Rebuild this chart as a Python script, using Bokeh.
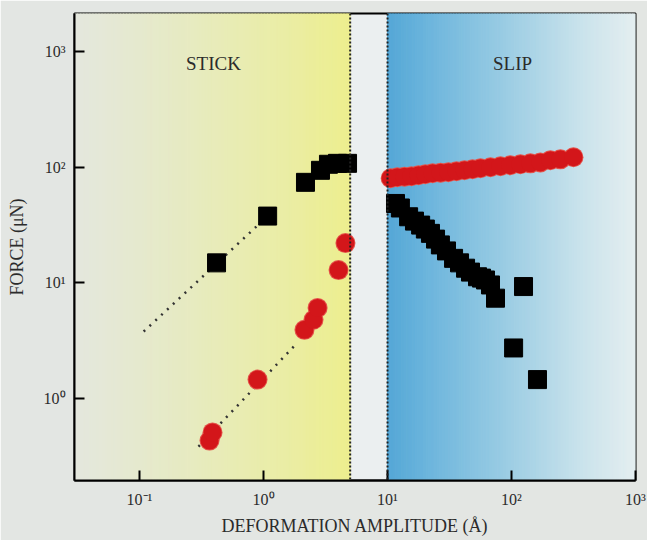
import numpy as np
from bokeh.plotting import figure
from bokeh.models import Range1d, FixedTicker, Label, Span, CustomJSTickFormatter
from bokeh.embed import file_html
from bokeh.resources import INLINE

# ---- data ----
stick_sq_x = [0.418, 1.08, 2.18, 2.88, 3.34, 3.95, 4.76]
stick_sq_y = [14.9, 37.8, 74, 94, 106, 108, 108]

stick_ci_x = [0.367, 0.388, 0.895, 2.14, 2.53, 2.73, 4.03, 4.58]
stick_ci_y = [0.434, 0.51, 1.46, 3.93, 4.8, 6.08, 12.9, 22.1]

slip_ci_x = [10.6, 12.0, 13.7, 15.6, 17.8, 20.2, 23.1, 26.8, 31.0, 36.0, 41.8,
             48.5, 56.2, 67.7, 81.5, 98, 118, 142, 171, 206, 248, 316]
slip_ci_y = [80.3, 82, 82.8, 83.6, 85.3, 87, 88.8, 89.7, 90.6, 92.4, 94.3,
             96.2, 98.1, 100, 102, 104, 106, 108, 110, 115, 117, 122]

slip_sq_x = [11.6, 12.7, 14.8, 16.5, 18.5, 20.2, 22.2, 24.4, 26.7, 29.9, 34.1,
             38.1, 42.6, 46.7, 53.2, 57.3, 61.7, 67.7, 74.3, 125, 104, 162]
slip_sq_y = [48.6, 44.4, 37.3, 34.2, 31.6, 29.2, 26.8, 23.9, 21.3, 18.9, 16.3,
             14.9, 13.4, 12.4, 11.3, 11.0, 10.6, 9.6, 7.38, 9.3, 2.74, 1.46]

fit_sq_x = [0.108, 1.0]
fit_sq_y = [3.8, 35.0]
fit_ci_x = [0.299, 1.81]
fit_ci_y = [0.385, 2.92]

region_bounds = [5.0, 10.0]   # stick | gap | slip
x_ticks = [0.1, 1, 10, 100, 1000]
y_ticks = [1, 10, 100, 1000]

X0, X1 = 0.0299, 1000
Y0, Y1 = 0.196, 2130

SERIF = "Liberation Serif"
TXT = "#2b2b2b"

p = figure(width=647, height=540, x_axis_type="log", y_axis_type="log",
           x_range=Range1d(X0, X1), y_range=Range1d(Y0, Y1),
           output_backend="svg", toolbar_location=None,
           min_border_left=74, min_border_right=12, min_border_top=13,
           min_border_bottom=60)
p.border_fill_color = "#e3e6e3"
p.background_fill_color = "#ebeff0"
p.grid.visible = False
p.outline_line_color = "black"
p.outline_line_width = 2


def grad(stops, t):
    fr = [s[0] for s in stops]
    out = []
    for tt in t:
        c = [np.interp(tt, fr, [s[1][k] for s in stops]) for k in range(3)]
        out.append("#%02x%02x%02x" % tuple(int(round(v)) for v in c))
    return out


def band(xa, xb, stops, n=90):
    e = np.logspace(np.log10(xa), np.log10(xb), n + 1)
    t = (np.arange(n) + 0.5) / n
    cols = grad(stops, t)
    p.quad(left=e[:-1], right=e[1:], bottom=Y0, top=Y1,
           fill_color=cols, line_color=cols, line_width=1)


yellow_stops = [(0.0, (228, 231, 222)), (0.35, (230, 234, 198)),
                (0.75, (234, 237, 166)), (1.0, (237, 238, 142))]
blue_stops = [(0.0, (84, 166, 214)), (0.15, (106, 180, 220)),
              (0.5, (158, 206, 228)), (0.8, (204, 228, 236)), (1.0, (228, 238, 240))]

band(X0, region_bounds[0], yellow_stops)
band(region_bounds[1], X1, blue_stops)

for b in region_bounds:
    p.add_layout(Span(location=b, dimension="height", line_color="#222222",
                      line_width=2, line_dash="2 2"))

p.line(fit_sq_x, fit_sq_y, line_color="#333333", line_width=2.5, line_dash="2 6")
p.line(fit_ci_x, fit_ci_y, line_color="#333333", line_width=2.5, line_dash="2 6")

p.scatter(stick_sq_x, stick_sq_y, marker="square", size=18, fill_color="black", line_color="black")
p.scatter(slip_sq_x, slip_sq_y, marker="square", size=18, fill_color="black", line_color="black")

# red circles: a pale rim layer underneath, solid red on top (merged silhouette)
for cx, cy in ((stick_ci_x, stick_ci_y), (slip_ci_x, slip_ci_y)):
    p.scatter(cx, cy, marker="circle", size=20, fill_color="#e4524a", line_color=None)
for cx, cy in ((stick_ci_x, stick_ci_y), (slip_ci_x, slip_ci_y)):
    p.scatter(cx, cy, marker="circle", size=18, fill_color="#d3161a", line_color=None)

p.add_layout(Label(x=0.395, y=789, text="STICK", text_align="center", text_baseline="middle",
                   text_font=SERIF, text_font_size="19px", text_color=TXT))
p.add_layout(Label(x=102, y=789, text="SLIP", text_align="center", text_baseline="middle",
                   text_font=SERIF, text_font_size="19px", text_color=TXT))

fmt = CustomJSTickFormatter(code="""
const sup = {"-": "\\u207b", "0": "\\u2070", "1": "\\u00b9", "2": "\\u00b2", "3": "\\u00b3",
             "4": "\\u2074", "5": "\\u2075", "6": "\\u2076", "7": "\\u2077", "8": "\\u2078", "9": "\\u2079"};
const e = Math.round(Math.log10(tick));
return "10" + String(e).split("").map(c => sup[c]).join("");
""")

p.xaxis.ticker = FixedTicker(ticks=x_ticks)
p.yaxis.ticker = FixedTicker(ticks=y_ticks)
for ax in (p.xaxis[0], p.yaxis[0]):
    ax.formatter = fmt
    ax.minor_tick_line_color = None
    ax.major_tick_in = 10
    ax.major_tick_out = 0
    ax.major_tick_line_width = 2
    ax.major_tick_line_color = "black"
    ax.axis_line_width = 2
    ax.axis_line_color = "black"
    ax.major_label_text_font = SERIF
    ax.major_label_text_font_size = "16px"
    ax.major_label_text_color = TXT
    ax.axis_label_text_font = SERIF
    ax.axis_label_text_font_size = "18px"
    ax.axis_label_text_font_style = "normal"
    ax.axis_label_text_color = TXT

p.xaxis.axis_label = "DEFORMATION AMPLITUDE (Å)"
p.yaxis.axis_label = "FORCE (μN)"
p.xaxis.major_label_standoff = 10
p.xaxis.axis_label_standoff = 5
p.yaxis.major_label_standoff = 9
p.yaxis.axis_label_standoff = 14

open("out.html", "w").write(file_html(p, INLINE))
